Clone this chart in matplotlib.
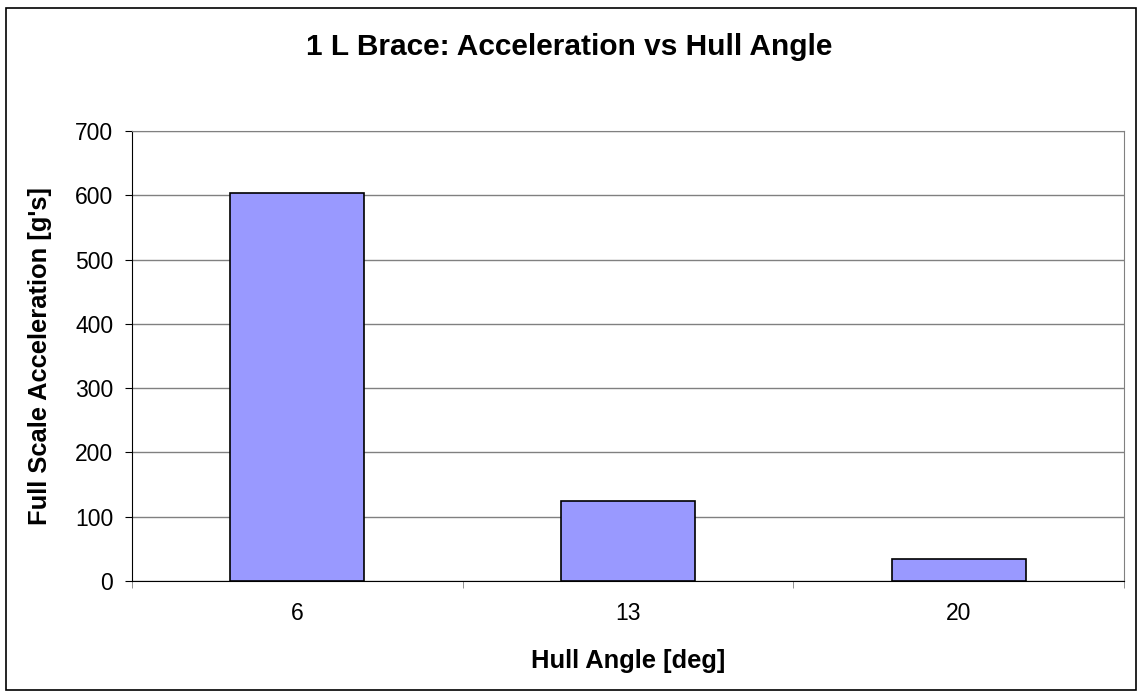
import numpy as np
import matplotlib
matplotlib.use("Agg")
import matplotlib.pyplot as plt
from matplotlib.patches import Rectangle

categories = ["6", "13", "20"]
values = [603, 124, 35]

plt.rcParams['font.family'] = ['Liberation Sans', 'DejaVu Sans']

fig = plt.figure(figsize=(11.38, 6.98), dpi=100)
# outer chart border
fig.patches.append(Rectangle((6 / 1138, 1 - 690 / 698), 1130 / 1138, 682 / 698,
                             transform=fig.transFigure, fill=False,
                             edgecolor='black', linewidth=1.2))

ax = fig.add_axes([132 / 1138, 1 - 581 / 698, 992 / 1138, 450 / 698])
x = np.arange(len(categories))
ax.bar(x, values, width=0.405, color='#9999ff', edgecolor='black', linewidth=1.2, zorder=3)

ax.set_xlim(-0.5, len(categories) - 0.5)
ax.set_ylim(0, 700)
ax.set_yticks(np.arange(0, 701, 100))
ax.yaxis.grid(True, color='#808080', linewidth=1.0, zorder=0)

ax.set_xticks(x)
ax.set_xticklabels(categories, fontsize=16.5)
ax.set_xticks(np.arange(-0.5, len(categories)), minor=True)
ax.tick_params(axis='x', which='major', length=0, pad=15)
ax.tick_params(axis='x', which='minor', length=5, direction='out', color='#808080')
ax.tick_params(axis='y', length=5, direction='out', labelsize=16.5, pad=8.5)

for side in ['top', 'right']:
    ax.spines[side].set_color('#808080')
ax.spines['left'].set_color('black')
ax.spines['bottom'].set_color('black')

ax.set_xlabel("Hull Angle [deg]", fontsize=18.4, fontweight='bold')
ax.set_ylabel("Full Scale Acceleration [g's]", fontsize=18.4, fontweight='bold')
ax.xaxis.set_label_coords(0.5, (581 - 649) / 450)
ax.yaxis.set_label_coords((52 - 132) / 992, 0.5)
fig.text(0.5, 1 - 47 / 698, "1 L Brace: Acceleration vs Hull Angle",
         ha='center', va='center', fontsize=21.5, fontweight='bold')

fig.savefig("out.png", dpi=100)
